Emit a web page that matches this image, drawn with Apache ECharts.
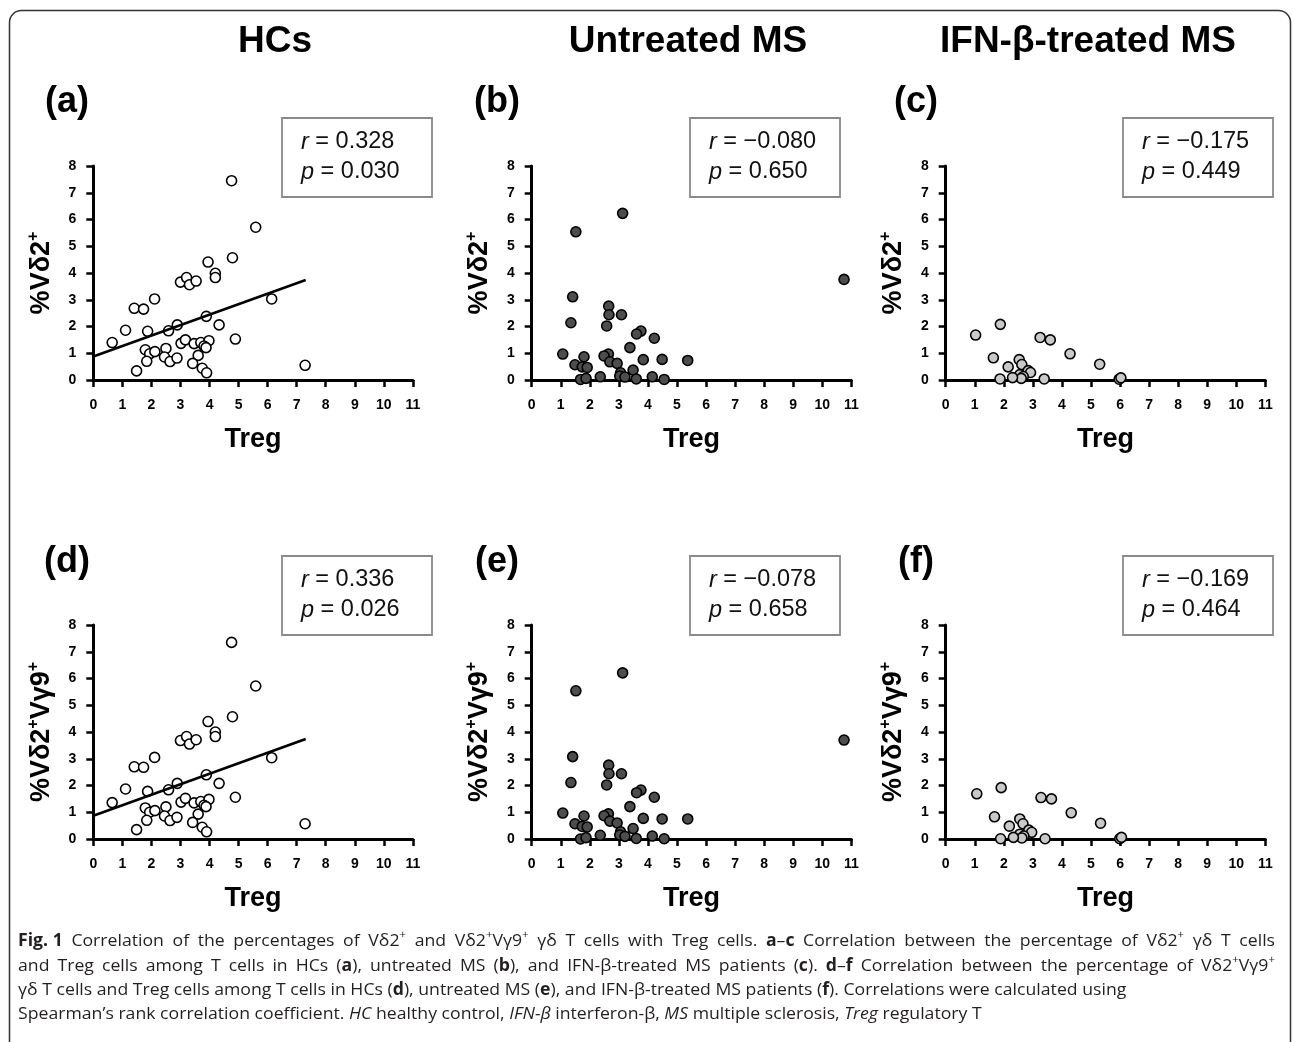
<!DOCTYPE html>
<html><head><meta charset="utf-8">
<script src="https://cdn.jsdelivr.net/npm/echarts@6/dist/echarts.min.js"></script>
<style>html,body{margin:0;padding:0;background:#fff}#c{width:1293px;height:1042px}</style>
</head><body><div id="c"></div>
<script>
// ---------- data ----------
const colTitles = ['HCs', 'Untreated MS', 'IFN-β-treated MS'];
const panelLetters = ['(a)', '(b)', '(c)', '(d)', '(e)', '(f)'];
const rValues = ['0.328', '−0.080', '−0.175', '0.336', '−0.078', '−0.169'];
const pValues = ['0.030', '0.650', '0.449', '0.026', '0.658', '0.464'];
const xAxisName = 'Treg';
const yAxisNames = ['{m|%Vδ2}{s|+}', '{m|%Vδ2}{s|+}{m|Vγ9}{s|+}'];

// (a) HCs, %Vδ2+ vs Treg
const hcVd2 = [[4.76,7.45],[5.59,5.71],[4.79,4.57],[3.95,4.41],[4.20,3.99],[4.20,3.83],[3.00,3.66],[3.21,3.83],[3.31,3.56],[3.54,3.70],[2.11,3.03],[1.41,2.68],[1.73,2.65],[6.14,3.03],[3.89,2.38],[4.33,2.06],[2.89,2.06],[1.11,1.86],[1.87,1.82],[2.59,1.84],[0.65,1.40],[4.89,1.53],[3.02,1.37],[3.17,1.50],[3.47,1.36],[3.70,1.40],[3.98,1.47],[3.81,1.27],[3.88,1.21],[1.79,1.13],[1.94,0.98],[2.12,1.06],[2.50,1.18],[2.45,0.86],[2.64,0.69],[2.88,0.82],[1.84,0.70],[3.61,0.92],[3.42,0.62],[3.75,0.44],[3.90,0.27],[1.49,0.34],[7.29,0.55]];
const hcVd2Fit = [[0, 0.88], [7.31, 3.74]];
// (b) untreated MS, %Vδ2+
const msVd2 = [[3.13,6.23],[1.52,5.54],[1.41,3.11],[2.65,2.76],[2.66,2.44],[3.09,2.44],[1.35,2.14],[2.58,2.02],[3.76,1.83],[3.61,1.72],[4.22,1.56],[3.38,1.21],[1.07,0.97],[2.64,0.97],[2.49,0.90],[1.80,0.87],[3.84,0.76],[4.49,0.77],[5.37,0.73],[2.69,0.68],[2.94,0.62],[1.49,0.57],[1.74,0.49],[1.91,0.47],[3.49,0.37],[3.06,0.27],[2.36,0.12],[3.03,0.15],[3.21,0.11],[4.15,0.12],[1.68,0.02],[1.87,0.06],[3.60,0.04],[4.56,0.02],[10.75,3.76]];
// (c) IFN-β-treated MS, %Vδ2+
const ifnVd2 = [[1.03,1.68],[1.88,2.08],[3.25,1.59],[3.60,1.50],[4.28,0.98],[5.30,0.59],[1.64,0.83],[2.53,0.76],[2.62,0.58],[2.15,0.49],[2.84,0.35],[2.92,0.28],[2.55,0.20],[2.67,0.13],[2.60,0.06],[2.30,0.09],[1.87,0.04],[3.39,0.04],[5.97,0.03],[6.03,0.08]];
// (d) HCs, %Vδ2+Vγ9+
const hcVd2Vg9 = [[4.76,7.35],[5.59,5.72],[4.79,4.57],[3.95,4.39],[4.20,4.00],[4.20,3.83],[3.00,3.68],[3.21,3.83],[3.31,3.55],[3.54,3.71],[2.11,3.05],[1.41,2.70],[1.73,2.68],[6.14,3.04],[3.89,2.40],[4.33,2.08],[2.89,2.08],[1.11,1.87],[1.87,1.78],[2.59,1.84],[0.65,1.36],[4.89,1.56],[3.02,1.38],[3.17,1.52],[3.47,1.35],[3.70,1.40],[3.98,1.48],[3.81,1.26],[3.88,1.21],[1.79,1.16],[1.94,1.00],[2.12,1.06],[2.50,1.20],[2.45,0.86],[2.64,0.69],[2.88,0.81],[1.84,0.70],[3.61,0.93],[3.42,0.62],[3.75,0.44],[3.90,0.27],[1.49,0.35],[7.29,0.57]];
const hcVd2Vg9Fit = [[0, 0.87], [7.31, 3.74]];
// (e) untreated MS, %Vδ2+Vγ9+
const msVd2Vg9 = [[3.13,6.21],[1.52,5.54],[1.41,3.08],[2.65,2.76],[2.66,2.44],[3.09,2.44],[1.35,2.11],[2.58,2.02],[3.76,1.83],[3.61,1.73],[4.22,1.56],[3.38,1.21],[1.07,0.97],[2.64,0.94],[2.49,0.87],[1.80,0.86],[3.84,0.77],[4.49,0.75],[5.37,0.75],[2.69,0.67],[2.94,0.60],[1.49,0.57],[1.74,0.47],[1.91,0.45],[3.49,0.39],[3.06,0.27],[2.36,0.14],[3.03,0.15],[3.21,0.10],[4.15,0.11],[1.68,0.00],[1.87,0.05],[3.60,0.02],[4.56,0.01],[10.75,3.70]];
// (f) IFN-β-treated MS, %Vδ2+Vγ9+
const ifnVd2Vg9 = [[1.07,1.69],[1.91,1.92],[3.28,1.55],[3.64,1.50],[4.32,0.98],[5.33,0.59],[1.68,0.83],[2.55,0.75],[2.66,0.57],[2.19,0.48],[2.86,0.33],[2.96,0.25],[2.55,0.18],[2.69,0.11],[2.62,0.04],[2.33,0.06],[1.89,0.01],[3.42,0.01],[5.99,0.01],[6.05,0.06]];

const captionLines = [
  '{b|Fig. 1} Correlation of the percentages of Vδ2{s|+} and Vδ2{s|+}Vγ9{s|+} γδ T cells with Treg cells. {b|a}–{b|c} Correlation between the percentage of Vδ2{s|+} γδ T cells',
  'and Treg cells among T cells in HCs ({b|a}), untreated MS ({b|b}), and IFN-β-treated MS patients ({b|c}). {b|d}–{b|f} Correlation between the percentage of Vδ2{s|+}Vγ9{s|+}',
  'γδ T cells and Treg cells among T cells in HCs ({b|d}), untreated MS ({b|e}), and IFN-β-treated MS patients ({b|f}). Correlations were calculated using',
  'Spearman’s rank correlation coefficient. {i|HC} healthy control, {i|IFN-β} interferon-β, {i|MS} multiple sclerosis, {i|Treg} regulatory T'
];
const captionJustify = [true, true, false, false];

// ---------- layout ----------
const F = '"Liberation Sans", Arial, Helvetica, sans-serif';
const CF = '"Open Sans", "Noto Sans", sans-serif';
const CFS = 17, CSUP = 11;
const colLeft = [93.3, 531.7, 945.7];
const rowTop = [166, 625];
const gW = 319.6, gH = 214;
const titleX = [275, 688, 1088];
const letterX = [67, 497, 916];
const letterY = [102, 562];
const boxLeft = [282, 690, 1123];
const boxTop = [118, 556];
const boxW = 150, boxH = 79;
const capX = 18, capRight = 1275, cap3Right = 1108, cap4Right = 1000;
const capY = [941, 966, 990, 1014];

const panelData = [hcVd2, msVd2, ifnVd2, hcVd2Vg9, msVd2Vg9, ifnVd2Vg9];
const fills = ['#ffffff', '#4d4d4d', '#c9c9c9'];
const fits = {0: hcVd2Fit, 3: hcVd2Vg9Fit};

const grids = [], xAxes = [], yAxes = [], series = [], graphics = [];
for (let i = 0; i < 6; i++) {
  const col = i % 3, row = Math.floor(i / 3);
  grids.push({left: colLeft[col], top: rowTop[row], width: gW, height: gH, containLabel: false});
  xAxes.push({
    gridIndex: i, type: 'value', min: 0, max: 11, interval: 1,
    name: xAxisName, nameLocation: 'middle', nameGap: 46,
    nameTextStyle: {fontSize: 27, fontWeight: 'bold', color: '#000', fontFamily: F},
    axisLine: {onZero: false, lineStyle: {color: '#000', width: 3}},
    axisTick: {length: 7, lineStyle: {color: '#000', width: 2.5}},
    axisLabel: {fontSize: 14, fontWeight: 'bold', color: '#000', margin: 18, fontFamily: F, interval: 0},
    splitLine: {show: false}
  });
  yAxes.push({
    gridIndex: i, type: 'value', min: 0, max: 8, interval: 1,
    name: yAxisNames[row], nameLocation: 'middle', nameRotate: 90, nameGap: 36,
    nameTextStyle: {fontSize: 27, fontWeight: 'bold', color: '#000', fontFamily: F,
      rich: {
        m: {fontSize: 27, fontWeight: 'bold', color: '#000', fontFamily: F, lineHeight: 32},
        s: {fontSize: 16, fontWeight: 'bold', color: '#000', fontFamily: F, verticalAlign: 'top', lineHeight: 16}
      }},
    axisLine: {onZero: false, lineStyle: {color: '#000', width: 3}},
    axisTick: {length: 7, lineStyle: {color: '#000', width: 2.5}},
    axisLabel: {fontSize: 14, fontWeight: 'bold', color: '#000', margin: 17, fontFamily: F, interval: 0},
    splitLine: {show: false}
  });
  series.push({
    type: 'scatter', xAxisIndex: i, yAxisIndex: i, data: panelData[i],
    symbol: 'circle', symbolSize: 10, z: 3,
    itemStyle: {color: fills[col], borderColor: '#000', borderWidth: 1.6, opacity: 1},
    emphasis: {disabled: true}
  });
  if (fits[i]) {
    series.push({
      type: 'line', xAxisIndex: i, yAxisIndex: i, data: fits[i], symbol: 'none', z: 4,
      lineStyle: {color: '#000', width: 2.6}, emphasis: {disabled: true}
    });
  }
  graphics.push({type: 'text', silent: true, style: {
    text: panelLetters[i], x: letterX[col], y: letterY[row], align: 'center', verticalAlign: 'middle',
    fontSize: 36, fontWeight: 'bold', fontFamily: F, fill: '#000'}});
  graphics.push({type: 'rect', silent: true, shape: {x: boxLeft[col], y: boxTop[row], width: boxW, height: boxH},
    style: {fill: '#fff', stroke: '#8a8a8a', lineWidth: 1.8}});
  graphics.push({type: 'text', silent: true, style: {
    text: '{i|r} = ' + rValues[i] + '\n{i|p} = ' + pValues[i],
    x: boxLeft[col] + 19, y: boxTop[row] + 9, align: 'left', verticalAlign: 'top',
    fontSize: 23.5, fontFamily: F, fill: '#111', lineHeight: 30,
    rich: {i: {fontSize: 23.5, fontStyle: 'italic', fontFamily: F, fill: '#111', lineHeight: 30}}}});
}
for (let c = 0; c < 3; c++) {
  graphics.push({type: 'text', silent: true, style: {
    text: colTitles[c], x: titleX[c], y: 42, align: 'center', verticalAlign: 'middle',
    fontSize: 37, fontWeight: 'bold', fontFamily: F, fill: '#000'}});
}

// ---------- caption (measured + justified) ----------
const mctx = document.createElement('canvas').getContext('2d');
const capFonts = {
  n: CFS + 'px ' + CF, b: 'bold ' + CFS + 'px ' + CF,
  i: 'italic ' + CFS + 'px ' + CF, s: CSUP + 'px ' + CF
};
function parseSegs(str) {
  const segs = []; const re = /\{(\w+)\|([^}]*)\}/g; let last = 0, m;
  while ((m = re.exec(str))) {
    if (m.index > last) segs.push(['n', str.slice(last, m.index)]);
    segs.push([m[1], m[2]]); last = re.lastIndex;
  }
  if (last < str.length) segs.push(['n', str.slice(last)]);
  return segs;
}
function measure(segs) {
  let w = 0;
  segs.forEach(([st, t]) => { mctx.font = capFonts[st]; w += mctx.measureText(t).width; });
  return w;
}
mctx.font = capFonts.n;
const spaceW = mctx.measureText(' ').width;
const w3 = measure(parseSegs(captionLines[2]));
const w4 = measure(parseSegs(captionLines[3]));
const capScale = ((cap3Right - capX) + (cap4Right - capX)) / (w3 + w4);
const capRich = {
  b: {fontSize: CFS, fontWeight: 'bold', fontFamily: CF, fill: '#231f20', lineHeight: 24},
  i: {fontSize: CFS, fontStyle: 'italic', fontFamily: CF, fill: '#231f20', lineHeight: 24},
  s: {fontSize: CSUP, fontFamily: CF, fill: '#231f20', verticalAlign: 'top', lineHeight: 12}
};
captionLines.forEach((t, k) => {
  const segs = parseSegs(t);
  let text = t;
  const rich = Object.assign({}, capRich);
  if (captionJustify[k]) {
    const nat = measure(segs);
    let nSp = 0;
    segs.forEach(([st, s]) => { if (st === 'n') nSp += (s.match(/ /g) || []).length; });
    const extra = Math.max(0, ((capRight - capX) / capScale - nat) / nSp);
    rich.sp = {width: spaceW + extra, fontSize: CFS, fontFamily: CF, lineHeight: 24};
    text = segs.map(([st, s]) => st === 'n' ? s.replace(/ /g, '{sp| }') : '{' + st + '|' + s + '}').join('');
  }
  graphics.push({type: 'text', silent: true, x: capX, y: capY[k], scaleX: capScale, style: {
    text: text, x: 0, y: 0, align: 'left', verticalAlign: 'middle',
    fontSize: CFS, fontFamily: CF, fill: '#231f20', lineHeight: 24, rich: rich}});
});
graphics.push({type: 'rect', silent: true, z: -10, shape: {x: 9.5, y: 10.5, width: 1281, height: 1045, r: 12},
  style: {fill: 'none', stroke: '#333', lineWidth: 1.5}});

const chart = echarts.init(document.getElementById('c'), null, {renderer: 'canvas', width: 1293, height: 1042});
chart.setOption({
  animation: false,
  backgroundColor: '#fff',
  grid: grids, xAxis: xAxes, yAxis: yAxes, series: series,
  graphic: {elements: graphics}
});
</script>
</body></html>
